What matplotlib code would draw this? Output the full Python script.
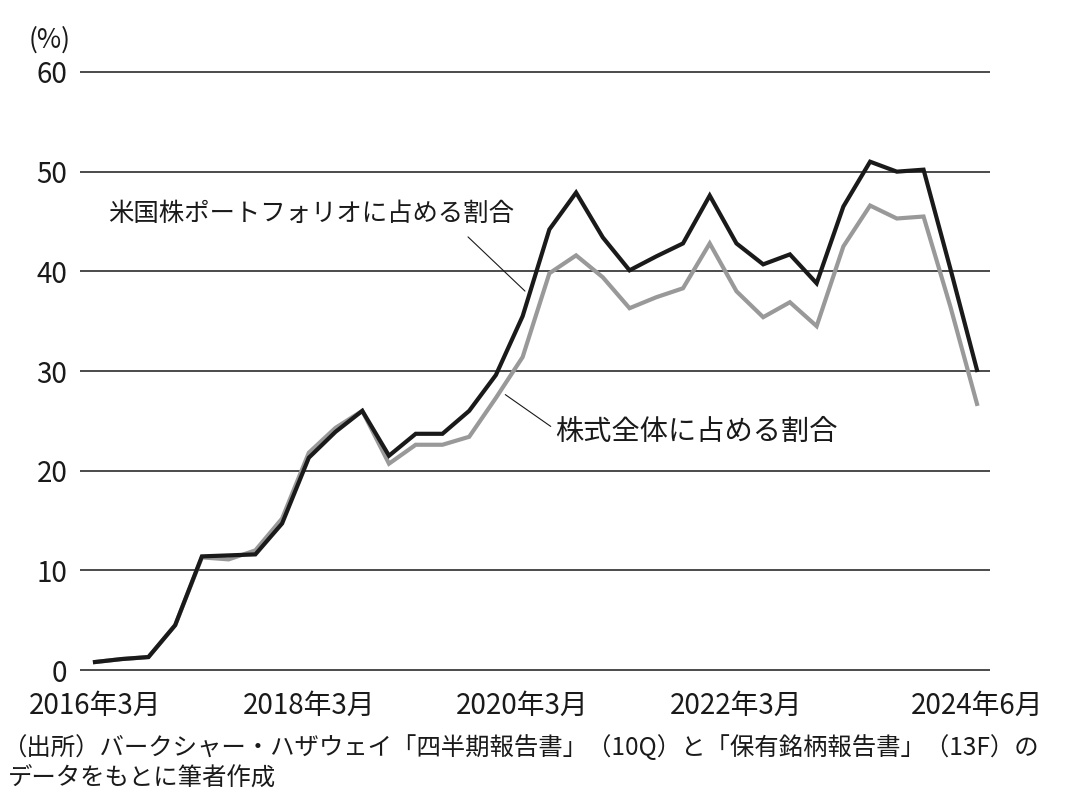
import matplotlib
matplotlib.use("Agg")
import matplotlib.pyplot as plt

plt.rcParams['font.family'] = ['Noto Sans CJK JP', 'DejaVu Sans']

quarters = list(range(34))  # 2016年3月 .. 2024年6月 (quarterly)
us_portfolio_share = [0.8, 1.1, 1.3, 4.5, 11.4, 11.5, 11.6, 14.7, 21.3, 23.9,
                      26.0, 21.5, 23.7, 23.7, 26.0, 29.6, 35.5, 44.2, 47.9, 43.4,
                      40.1, 41.5, 42.8, 47.6, 42.8, 40.7, 41.7, 38.8, 46.5, 51.0,
                      50.0, 50.2, 40.3, 30.1]
total_equity_share = [0.8, 1.1, 1.3, 4.5, 11.3, 11.1, 12.0, 15.2, 21.8, 24.3,
                      26.0, 20.7, 22.6, 22.6, 23.4, 27.3, 31.4, 39.8, 41.6, 39.4,
                      36.3, 37.4, 38.3, 42.8, 38.0, 35.4, 36.9, 34.5, 42.5, 46.6,
                      45.3, 45.5, 36.5, 26.7]
xtick_pos = [0, 8, 16, 24, 33]
xtick_labels = ['2016年3月', '2018年3月', '2020年3月', '2022年3月', '2024年6月']
yticks = [0, 10, 20, 30, 40, 50, 60]

fig = plt.figure(figsize=(10.8, 7.98), dpi=100)
ax = fig.add_axes([80/1080, 1-673/798, 910/1080, (673-69)/798])
ax.set_ylim(-0.3, 60.3)
ppq = (977-95)/33
ax.set_xlim(-(95-80)/ppq, 33 + (990-977)/ppq)

for y in yticks:
    ax.axhline(y, color='#1a1a1a', lw=1.1, zorder=1)

ax.plot(quarters, total_equity_share, color='#999999', lw=3.0, zorder=2,
        solid_joinstyle='miter')
ax.plot(quarters, us_portfolio_share, color='#1a1a1a', lw=3.0, zorder=3,
        solid_joinstyle='miter')

for s in ax.spines.values():
    s.set_visible(False)
ax.set_yticks(yticks)
ax.set_yticklabels([str(v) for v in yticks], fontsize=20, color='#1a1a1a')
ax.set_xticks(xtick_pos)
ax.set_xticklabels(xtick_labels, fontsize=20, color='#1a1a1a')
ax.tick_params(axis='y', length=0, pad=9)
ax.tick_params(axis='x', length=0, pad=13)

fig.text(50/1080, 1-40/798, '(%)', fontsize=19, ha='center', va='center', color='#1a1a1a')

def px2data(px, py):
    xd = (px-95)/ppq
    yd = (670-py)/((670-72)/60)
    return xd, yd

ax.annotate('', xy=px2data(527, 293), xytext=px2data(466, 235),
            arrowprops=dict(arrowstyle='-', color='#1a1a1a', lw=0.8), zorder=4)
ax.text(*px2data(108, 214), '米国株ポートフォリオに占める割合', fontsize=18.3,
        ha='left', va='center', color='#1a1a1a')
ax.annotate('', xy=px2data(503, 393), xytext=px2data(553, 428),
            arrowprops=dict(arrowstyle='-', color='#1a1a1a', lw=0.8), zorder=4)
ax.text(*px2data(555, 432), '株式全体に占める割合', fontsize=20.3,
        ha='left', va='center', color='#1a1a1a')

fig.text(2/1080, 1-748/798,
         '（出所）バークシャー・ハザウェイ「四半期報告書」（10Q）と「保有銘柄報告書」（13F）の',
         fontsize=17.6, ha='left', va='center', color='#1a1a1a')
fig.text(8/1080, 1-779/798, 'データをもとに筆者作成',
         fontsize=17.6, ha='left', va='center', color='#1a1a1a')

fig.savefig('out.png', dpi=100, facecolor='white')
